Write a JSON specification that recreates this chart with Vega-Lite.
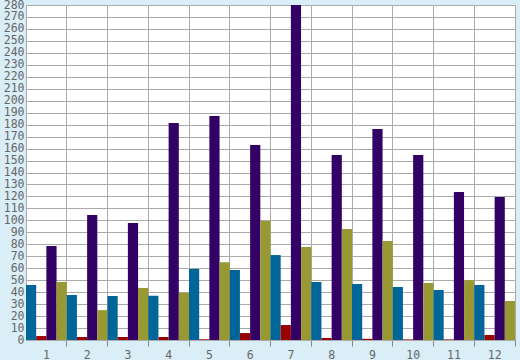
{
  "$schema": "https://vega.github.io/schema/vega-lite/v6.json",
  "width": 489,
  "height": 335,
  "autosize": "none",
  "padding": {"left": 26, "top": 5, "right": 5, "bottom": 20},
  "background": "#d9eef6",
  "view": {"fill": "#ffffff", "stroke": "#aaaaaa", "strokeWidth": 1},
  "config": {"font": "DejaVu Sans Mono"},
  "data": {"values": [
    {"g": "1", "s": "a", "v": 46}, {"g": "1", "s": "b", "v": 3.3}, {"g": "1", "s": "c", "v": 78.5}, {"g": "1", "s": "d", "v": 48.5},
    {"g": "2", "s": "a", "v": 37.6}, {"g": "2", "s": "b", "v": 2.5}, {"g": "2", "s": "c", "v": 104.5}, {"g": "2", "s": "d", "v": 25},
    {"g": "3", "s": "a", "v": 36.8}, {"g": "3", "s": "b", "v": 2.5}, {"g": "3", "s": "c", "v": 97.8}, {"g": "3", "s": "d", "v": 43.5},
    {"g": "4", "s": "a", "v": 37}, {"g": "4", "s": "b", "v": 2.5}, {"g": "4", "s": "c", "v": 181.4}, {"g": "4", "s": "d", "v": 39.5},
    {"g": "5", "s": "a", "v": 59.4}, {"g": "5", "s": "b", "v": 0.6}, {"g": "5", "s": "c", "v": 187.3}, {"g": "5", "s": "d", "v": 65},
    {"g": "6", "s": "a", "v": 58.5}, {"g": "6", "s": "b", "v": 5.8}, {"g": "6", "s": "c", "v": 163}, {"g": "6", "s": "d", "v": 99.5},
    {"g": "7", "s": "a", "v": 71}, {"g": "7", "s": "b", "v": 12.5}, {"g": "7", "s": "c", "v": 280}, {"g": "7", "s": "d", "v": 77.8},
    {"g": "8", "s": "a", "v": 48.5}, {"g": "8", "s": "b", "v": 1.7}, {"g": "8", "s": "c", "v": 154.7}, {"g": "8", "s": "d", "v": 92.8},
    {"g": "9", "s": "a", "v": 46.8}, {"g": "9", "s": "b", "v": 1}, {"g": "9", "s": "c", "v": 176.4}, {"g": "9", "s": "d", "v": 82.8},
    {"g": "10", "s": "a", "v": 44.3}, {"g": "10", "s": "b", "v": 0.5}, {"g": "10", "s": "c", "v": 154.7}, {"g": "10", "s": "d", "v": 47.7},
    {"g": "11", "s": "a", "v": 41.8}, {"g": "11", "s": "b", "v": 0.5}, {"g": "11", "s": "c", "v": 123.7}, {"g": "11", "s": "d", "v": 50},
    {"g": "12", "s": "a", "v": 46}, {"g": "12", "s": "b", "v": 4.2}, {"g": "12", "s": "c", "v": 119.6}, {"g": "12", "s": "d", "v": 32.6}
  ]},
  "mark": {"type": "bar", "clip": true},
  "encoding": {
    "x": {
      "field": "g", "type": "ordinal",
      "sort": ["1","2","3","4","5","6","7","8","9","10","11","12"],
      "scale": {"paddingInner": 0, "paddingOuter": 0},
      "axis": {
        "title": null, "labelAngle": 0, "bandPosition": 1,
        "grid": true, "gridColor": "#aaaaaa", "gridOpacity": 1, "gridWidth": 1,
        "domainColor": "#aaaaaa", "domainWidth": 1,
        "tickColor": "#888888", "tickSize": 6, "tickWidth": 1,
        "labelColor": "#666666", "labelFontSize": 11.5, "labelPadding": 3
      }
    },
    "xOffset": {"field": "s", "type": "nominal", "sort": ["a","b","c","d"], "scale": {"paddingInner": 0, "paddingOuter": 0}},
    "y": {
      "field": "v", "type": "quantitative",
      "scale": {"domain": [0, 280], "nice": false},
      "axis": {
        "title": null, "values": [0,10,20,30,40,50,60,70,80,90,100,110,120,130,140,150,160,170,180,190,200,210,220,230,240,250,260,270,280],
        "grid": true, "gridColor": "#aaaaaa", "gridOpacity": 1, "gridWidth": 1,
        "domain": false, "ticks": false,
        "labelColor": "#666666", "labelFontSize": 11.5, "labelPadding": 2,
        "labelBound": false, "labelFlush": false, "labelOverlap": false
      }
    },
    "color": {
      "field": "s", "type": "nominal", "sort": ["a","b","c","d"],
      "scale": {"domain": ["a","b","c","d"], "range": ["#006699", "#990000", "#330066", "#999933"]},
      "legend": null
    }
  }
}
